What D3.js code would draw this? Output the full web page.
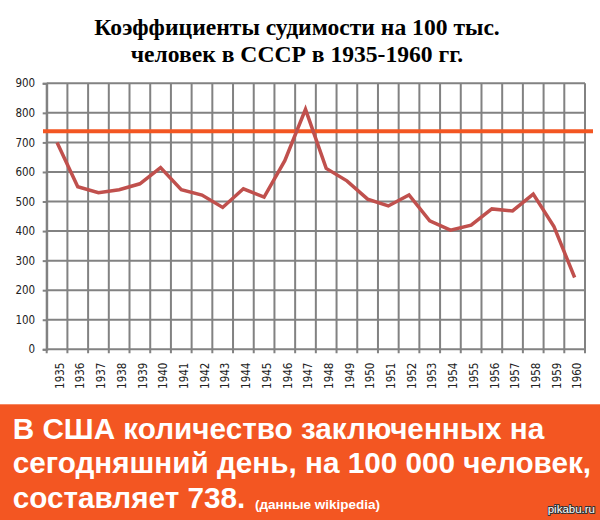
<!DOCTYPE html>
<html>
<head>
<meta charset="utf-8">
<script src="https://cdn.jsdelivr.net/npm/d3@7"></script>
<style>
  html, body { margin: 0; padding: 0; background: #fff; }
  svg { display: block; }
</style>
</head>
<body>
<script>
// ---- data ----
const years = ["1935","1936","1937","1938","1939","1940","1941","1942","1943","1944","1945","1946","1947","1948","1949","1950","1951","1952","1953","1954","1955","1956","1957","1958","1959","1960"];
const rates = [700, 550, 530, 540, 560, 615, 540, 522, 480, 543, 515, 638, 812, 612, 570, 508, 485, 522, 435, 403, 420, 475, 468, 525, 415, 243];
const usaRate = 738;
const yTicks = [0, 100, 200, 300, 400, 500, 600, 700, 800, 900];
const titleLines = ["Коэффициенты судимости на 100 тыс.", "человек в СССР в 1935-1960 гг."];
const bannerLines = ["В США количество заключенных на", "сегодняшний день, на 100 000 человек,", "составляет 738."];
const bannerNote = "(данные wikipedia)";
const watermark = "pikabu.ru";

// ---- layout ----
const W = 600, H = 520;
const plotL = 46.7, plotR = 585, plotT = 83.3, plotB = 349.3;
const orange = "#f35622";

const svg = d3.select("body").append("svg").attr("width", W).attr("height", H);

// title
svg.append("g").selectAll("text").data(titleLines).join("text")
  .attr("x", 297).attr("y", (d, i) => 34.5 + i * 27.4)
  .attr("text-anchor", "middle")
  .attr("font-family", "'Liberation Serif', 'Times New Roman', serif")
  .attr("font-weight", "bold").attr("font-size", 23.6)
  .attr("fill", "#000")
  .text(d => d);

const x = d3.scaleBand().domain(years).range([plotL, plotR]).padding(0);
const y = d3.scaleLinear().domain([0, 900]).range([plotB, plotT]);

const gridColor = "#828282";

// horizontal gridlines
svg.append("g").selectAll("line").data(yTicks).join("line")
  .attr("x1", plotL).attr("x2", plotR)
  .attr("y1", d => y(d)).attr("y2", d => y(d))
  .attr("stroke", gridColor).attr("stroke-width", 2);

// vertical gridlines at band boundaries
const bounds = years.map(d => x(d)).concat([x(years[years.length - 1]) + x.bandwidth()]);
svg.append("g").selectAll("line").data(bounds).join("line")
  .attr("x1", d => d).attr("x2", d => d)
  .attr("y1", plotT).attr("y2", plotB + 4)
  .attr("stroke", gridColor).attr("stroke-width", 2);

// y axis
const yAxis = svg.append("g").attr("transform", `translate(${plotL},0)`)
  .call(d3.axisLeft(y).tickValues(yTicks).tickSize(4).tickPadding(7.5));
yAxis.select(".domain").attr("stroke", gridColor).attr("stroke-width", 2);
yAxis.selectAll(".tick line").attr("stroke", gridColor).attr("stroke-width", 2);
yAxis.selectAll("text")
  .attr("font-family", "'DejaVu Sans Condensed', 'DejaVu Sans', sans-serif")
  .attr("font-size", 11.5).attr("fill", "#222");

// x axis labels
const xAxis = svg.append("g").attr("transform", `translate(0,${plotB})`)
  .call(d3.axisBottom(x).tickSize(0).tickPadding(0));
xAxis.select(".domain").remove();
xAxis.selectAll("text")
  .attr("font-family", "'DejaVu Sans Condensed', 'DejaVu Sans', sans-serif")
  .attr("font-size", 11.5).attr("fill", "#222")
  .attr("text-anchor", "end")
  .attr("transform", "translate(2.7,13.3) rotate(-90)")
  .attr("x", 0).attr("y", 0).attr("dy", "0.35em");

// USA reference line
svg.append("line")
  .attr("x1", 43).attr("x2", 593)
  .attr("y1", y(usaRate)).attr("y2", y(usaRate))
  .attr("stroke", orange).attr("stroke-width", 4);

// data line
const line = d3.line().x((d, i) => x(years[i]) + x.bandwidth() / 2).y(d => y(d));
svg.append("path").datum(rates)
  .attr("d", line)
  .attr("fill", "none").attr("stroke", "#c0504d")
  .attr("stroke-width", 3.5).attr("stroke-linejoin", "miter");

// banner
svg.append("rect").attr("x", 0).attr("y", 404.3).attr("width", W).attr("height", H - 404.3)
  .attr("fill", orange);

const bt = svg.append("g").attr("font-family", "'Liberation Sans', Arial, sans-serif")
  .attr("font-weight", "bold").attr("fill", "#fff");
bt.selectAll("text.bl").data(bannerLines).join("text").attr("class", "bl")
  .attr("x", 12.7).attr("y", (d, i) => 438.5 + i * 34.8)
  .attr("font-size", 29.7)
  .text(d => d);

bt.append("text").attr("x", 255).attr("y", 509)
  .attr("font-size", 13.5).text(bannerNote);

svg.append("text").attr("x", 595).attr("y", 513)
  .attr("text-anchor", "end")
  .attr("font-family", "'Liberation Sans', Arial, sans-serif")
  .attr("font-size", 11.5)
  .attr("fill", "#fff").attr("stroke", "#333").attr("stroke-width", 2)
  .attr("paint-order", "stroke").attr("stroke-linejoin", "round")
  .text(watermark);
</script>
</body>
</html>
